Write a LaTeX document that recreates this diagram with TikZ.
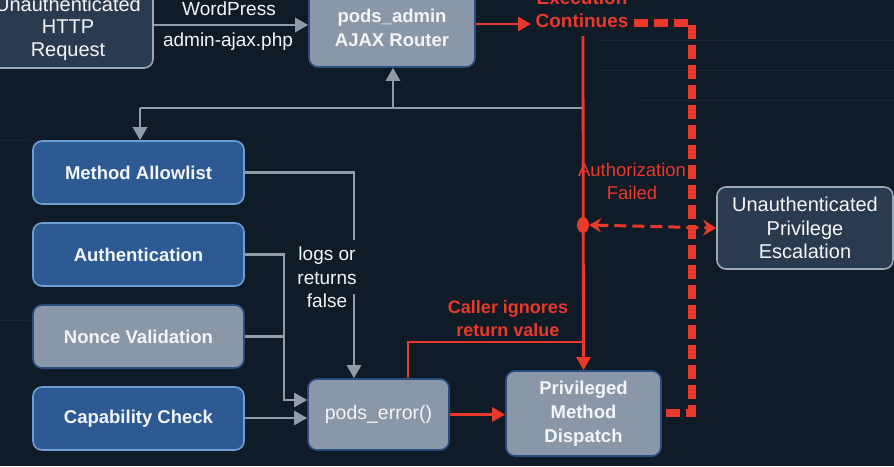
\documentclass[tikz,border=0pt]{standalone}
\usepackage{fontspec}
\setmainfont{Liberation Sans}
\usetikzlibrary{arrows.meta,calc}
\definecolor{bgc}{HTML}{0F1B27}
\definecolor{bluefill}{HTML}{2E5A93}
\definecolor{blueedge}{HTML}{6E9ED6}
\definecolor{grayfill}{HTML}{8A97A8}
\definecolor{grayedge}{HTML}{2B4C7E}
\definecolor{darkfill}{HTML}{2A3A4F}
\definecolor{darkedge}{HTML}{9AA8B8}
\definecolor{lineg}{HTML}{8E9BAA}
\definecolor{redc}{HTML}{E8392A}
\definecolor{txt}{HTML}{F3F5F8}
\tikzset{
  boxbase/.style={rounded corners=9pt, line width=1.6pt, text=txt, align=center,
    font=\fontsize{18.5}{24}\selectfont\bfseries, inner sep=0pt},
  bluebox/.style={boxbase, fill=bluefill, draw=blueedge},
  graybox/.style={boxbase, fill=grayfill, draw=grayedge},
  darkbox/.style={boxbase, fill=darkfill, draw=darkedge, font=\fontsize{20}{23.5}\selectfont},
  gline/.style={draw=lineg, line width=2.6pt},
  garrow/.style={gline, -{Triangle[length=13pt,width=14pt]}},
  rline/.style={draw=redc, line width=2.8pt},
  rarrow/.style={rline, -{Triangle[length=13pt,width=14pt]}},
  lbl/.style={text=txt, align=center, font=\fontsize{19}{23.5}\selectfont, inner sep=0pt},
  rlbl/.style={text=redc, align=center, font=\fontsize{18.5}{23}\selectfont\bfseries, inner sep=0pt},
  hatch/.style={draw=redc, line width=8pt, dash pattern=on 14pt off 6pt},
}
\begin{document}
\begin{tikzpicture}[x=1pt,y=-1pt]
\fill[bgc] (0,0) rectangle (894,466);
\useasboundingbox (0,0) rectangle (894,466);
% faint background traces
\begin{scope}[draw=white, draw opacity=0.05, line width=1pt]
\draw (600,40) -- (894,40);
\draw (600,70) -- (894,70);
\draw (640,100) -- (894,100);
\draw (0,320) -- (30,320);
\draw (0,140) -- (30,140);
\end{scope}

% nodes
\node[darkbox, minimum width=170pt, minimum height=79pt, font=\fontsize{20}{22.5}\selectfont] (http) at (68,28.5) {Unauthenticated\\HTTP\\Request};
\node[graybox, minimum width=166pt, minimum height=79pt] (pods) at (392,27.5) {pods\_admin\\AJAX Router};
\node[bluebox, minimum width=211pt, minimum height=63pt] (allow) at (138.5,172.5) {Method Allowlist};
\node[bluebox, minimum width=211pt, minimum height=63pt] (auth) at (138.5,254.5) {Authentication};
\node[graybox, minimum width=211pt, minimum height=63pt] (nonce) at (138.5,336.5) {Nonce Validation};
\node[bluebox, minimum width=211pt, minimum height=63pt] (cap) at (138.5,418.5) {Capability Check};
\node[graybox, minimum width=141pt, minimum height=71pt, font=\fontsize{19.5}{23}\selectfont] (perr) at (378.5,414.5) {pods\_error()};
\node[graybox, minimum width=155pt, minimum height=85pt] (priv) at (583.5,413.5) {Privileged\\Method\\Dispatch};
\node[darkbox, minimum width=176pt, minimum height=82pt] (esc) at (805,228) {Unauthenticated\\Privilege\\Escalation};

% labels
\node[lbl] (wp) at (229,9) {WordPress};
\node[lbl] (ajax) at (228,42) {admin-ajax.php};
\node[rlbl, font=\fontsize{19}{23}\selectfont\bfseries] (exec) at (582,9.5) {Execution\\Continues};
\node[rlbl, font=\fontsize{18.5}{23}\selectfont] (authf) at (632,181) {Authorization\\Failed};
\node[rlbl, font=\fontsize{18}{23}\selectfont\bfseries] (caller) at (508,318.5) {Caller ignores\\return value};
\node[lbl] (logs) at (327,277.5) {logs or\\returns\\false};

% coordinates
\coordinate (j1) at (393,108);
\coordinate (j2) at (140,108);
\coordinate (j3) at (583,108);
\coordinate (rtop) at (583,36);
\coordinate (dot) at (583,225);
\coordinate (ex) at (531,24);
\coordinate (h1) at (634,23);
\coordinate (h2) at (692,23);
\coordinate (h3) at (692,413);
\coordinate (a1) at (354,240);
\coordinate (a2) at (354,294);
\coordinate (bus) at (284,255);
\coordinate (c1) at (408,342);

% gray connectors
\draw[garrow] (http.east |- 0,25) -- (pods.west |- 0,25);
\draw[gline] (j3) -- (j2);
\draw[garrow] (j1) -- (pods.south -| j1);
\draw[garrow] (j2) -- (allow.north -| j2);
\draw[gline] (allow.east) -| (a1);
\draw[garrow] (a2) -- (perr.north -| a2);
\draw[gline] (auth.east) -| (bus);
\draw[garrow] (bus) |- ($(perr.west)+(0,-14.5)$);
\draw[gline] (nonce.east) -- (nonce.east -| bus);
\draw[garrow] (cap.east |- 0,418) -- (perr.west |- 0,418);

% red connectors
\draw[rarrow] (pods.east |- 0,24) -- (ex);
\draw[rarrow] (rtop) -- (priv.north);
\draw[rline] (perr.north -| c1) |- (c1 -| rtop);
\draw[rarrow] (perr.east) -- (priv.west |- perr.east);
\draw[hatch] (h1) -- (h2) -- (h3) -- (priv.east |- h3);
\draw[draw=redc, line width=3pt, dash pattern=on 12pt off 6pt, {Stealth[length=12pt,width=14pt]}-{Stealth[length=13pt,width=16pt]}] ($(dot)+(6,0)$) -- (esc.west);
\fill[redc] (dot) ellipse (6pt and 8pt);
\end{tikzpicture}
\end{document}
